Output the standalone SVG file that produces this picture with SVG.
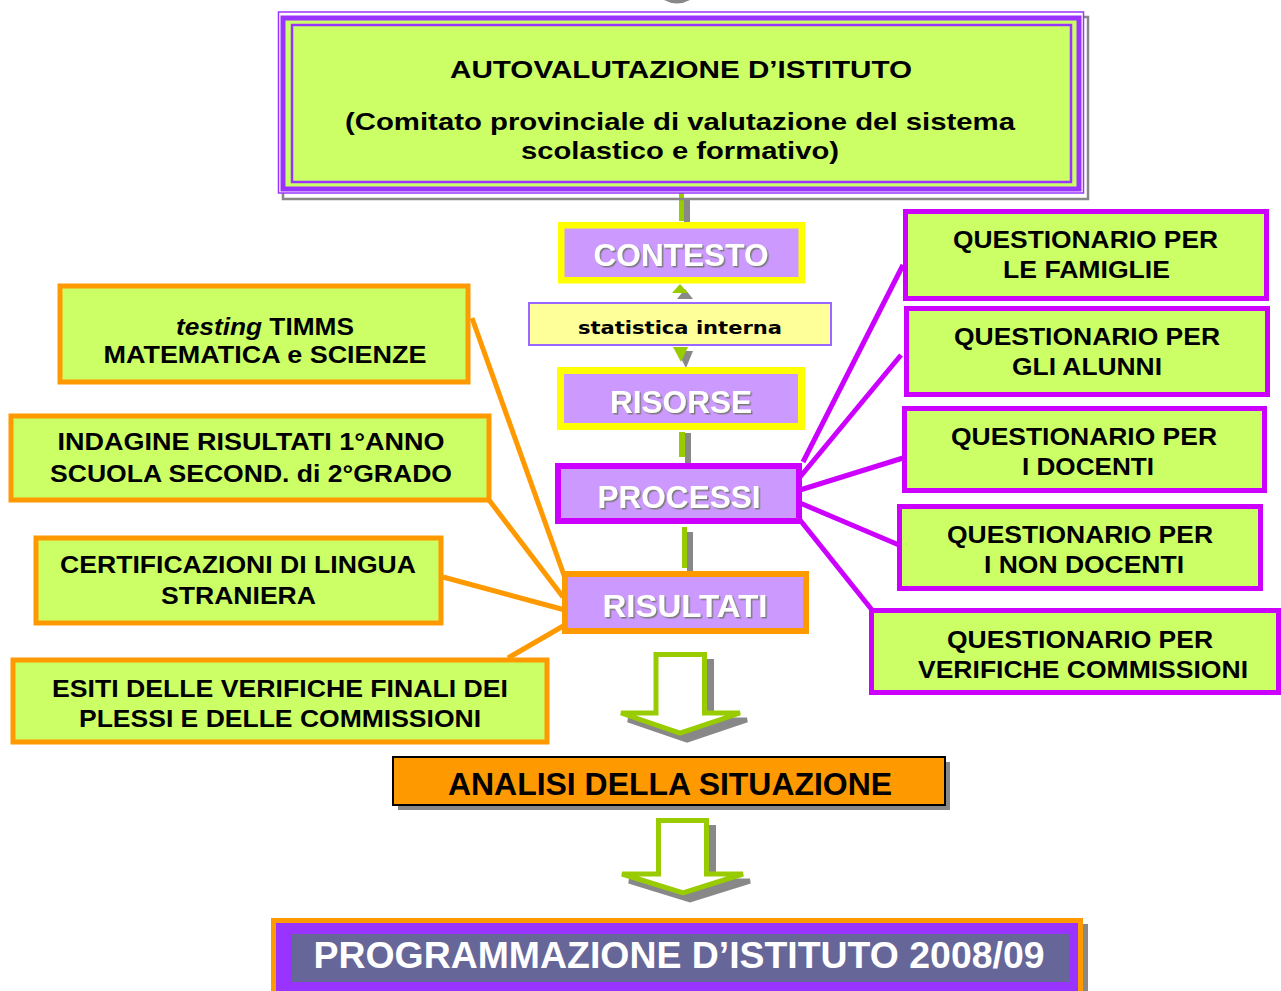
<svg xmlns="http://www.w3.org/2000/svg" width="1281" height="991" viewBox="0 0 1281 991">
<defs>
<filter id="ts" x="-5%" y="-20%" width="112%" height="150%"><feDropShadow dx="1.5" dy="1.5" stdDeviation="0.3" flood-color="#7a7a7a" flood-opacity="1"/></filter>
</defs>
<style>
text{font-family:"Liberation Sans",Arial,sans-serif;font-weight:bold;text-anchor:middle;fill:#000}
.t24{font-size:24px}
.w{fill:#fff;font-size:32px;filter:url(#ts)}
.lg{fill:#ccff66;stroke:#ff9900;stroke-width:5}
.rg{fill:#ccff66;stroke:#cc00ff;stroke-width:5}
.pb{fill:#cc99ff}
.oc{stroke:#ff9900;stroke-width:5;fill:none}
.mc{stroke:#cc00ff;stroke-width:5;fill:none}
.gf{fill:#99cc00}
.sf{fill:#888}
.big{fill:#fff;stroke:#99cc00;stroke-width:5;stroke-linejoin:miter}
.bigs{fill:#888;stroke:#888;stroke-width:5}
</style>
<rect width="1281" height="991" fill="#fff"/>
<path d="M664,0 Q677,7 690,0 Z" fill="#888"/>

<g id="connectors">
  <rect class="sf" x="684" y="198" width="6" height="27"/>
  <rect class="gf" x="679" y="193" width="5" height="28"/>
  <polygon class="sf" points="685,289 677,299 693,299"/>
  <polygon class="gf" points="680,284 672,293 688,293"/>
  <polygon class="sf" points="677,351 693,351 686,368"/>
  <polygon class="gf" points="673,347 688,347 681,362"/>
  <rect class="sf" x="685" y="433" width="6" height="30"/>
  <rect class="gf" x="679" y="432" width="6" height="25"/>
  <rect class="sf" x="687" y="532" width="6" height="39"/>
  <rect class="gf" x="682" y="527" width="5" height="41"/>
  <line class="oc" x1="472" y1="318" x2="565" y2="578"/>
  <line class="oc" x1="489" y1="500" x2="563" y2="597"/>
  <line class="oc" x1="443" y1="577" x2="565" y2="610"/>
  <line class="oc" x1="508" y1="658" x2="565" y2="625"/>
  <line class="mc" x1="803" y1="462" x2="903" y2="265"/>
  <line class="mc" x1="800" y1="477" x2="901" y2="355"/>
  <line class="mc" x1="800" y1="490" x2="903" y2="458"/>
  <line class="mc" x1="800" y1="503" x2="899" y2="545"/>
  <line class="mc" x1="800" y1="520" x2="872" y2="610"/>
  <path class="bigs" d="M663,661.5 H711.5 V720 H747 L687,740 L628,720 H663 Z"/>
  <path class="big" d="M656,654.5 H704.5 V713 H740 L680,733 L621,713 H656 Z"/>
  <path class="bigs" d="M665.5,827.5 H713.5 V881 H750 L690,900 L629,881 H665.5 Z"/>
  <path class="big" d="M658.5,820.5 H706.5 V874 H743 L683,893 L622,874 H658.5 Z"/>
</g>

<g id="autovalutazione">
  <rect x="283" y="17" width="805" height="182" fill="none" stroke="#888" stroke-width="2.5"/>
  <rect x="278.5" y="12" width="805" height="181" fill="#fff" stroke="#9933ff" stroke-width="1.5"/>
  <rect x="283" y="18" width="796" height="171" fill="#ccff66" stroke="#9933ff" stroke-width="5"/>
  <rect x="292" y="25" width="779" height="157" fill="none" stroke="#9933ff" stroke-width="2.5"/>
  <text class="t24" x="681" y="78" textLength="462" lengthAdjust="spacingAndGlyphs">AUTOVALUTAZIONE D’ISTITUTO</text>
  <text class="t24" x="680" y="130" textLength="670" lengthAdjust="spacingAndGlyphs">(Comitato provinciale di valutazione del sistema</text>
  <text class="t24" x="680" y="159" textLength="318" lengthAdjust="spacingAndGlyphs">scolastico e formativo)</text>
</g>

<g id="contesto">
  <rect class="pb" x="561.25" y="225.25" width="240.5" height="55" stroke="#ffff00" stroke-width="6.5"/>
  <text class="w" x="681" y="266" textLength="175" lengthAdjust="spacingAndGlyphs">CONTESTO</text>
</g>

<g id="statistica">
  <rect x="529" y="303" width="302" height="42" fill="#ffff99" stroke="#9966ff" stroke-width="2"/>
  <text x="680" y="334" style="font-family:'DejaVu Sans',Verdana,sans-serif;font-size:17px" textLength="204" lengthAdjust="spacingAndGlyphs">statistica interna</text>
</g>

<g id="risorse">
  <rect class="pb" x="560.5" y="370.5" width="241" height="56" stroke="#ffff00" stroke-width="7"/>
  <text class="w" x="681" y="413" textLength="142" lengthAdjust="spacingAndGlyphs">RISORSE</text>
</g>

<g id="processi">
  <rect class="pb" x="558" y="466" width="241" height="55" stroke="#cc00ff" stroke-width="6"/>
  <text class="w" x="679" y="508" textLength="163" lengthAdjust="spacingAndGlyphs">PROCESSI</text>
</g>

<g id="risultati">
  <rect class="pb" x="565" y="574" width="241" height="57" stroke="#ff9900" stroke-width="6"/>
  <text class="w" x="685" y="617" textLength="165" lengthAdjust="spacingAndGlyphs">RISULTATI</text>
</g>

<g id="timms">
  <rect class="lg" x="60" y="286" width="408" height="96"/>
  <text class="t24" x="265" y="335" textLength="178" lengthAdjust="spacingAndGlyphs"><tspan font-style="italic">testing</tspan> TIMMS</text>
  <text class="t24" x="265" y="363" textLength="323" lengthAdjust="spacingAndGlyphs">MATEMATICA e SCIENZE</text>
</g>

<g id="indagine">
  <rect class="lg" x="11" y="416" width="478" height="84"/>
  <text class="t24" x="251" y="450" textLength="387" lengthAdjust="spacingAndGlyphs">INDAGINE RISULTATI 1°ANNO</text>
  <text class="t24" x="251" y="482" textLength="402" lengthAdjust="spacingAndGlyphs">SCUOLA SECOND. di 2°GRADO</text>
</g>

<g id="certificazioni">
  <rect class="lg" x="36" y="538" width="405" height="85"/>
  <text class="t24" x="238" y="573" textLength="356" lengthAdjust="spacingAndGlyphs">CERTIFICAZIONI DI LINGUA</text>
  <text class="t24" x="238.5" y="604" textLength="155" lengthAdjust="spacingAndGlyphs">STRANIERA</text>
</g>

<g id="esiti">
  <rect class="lg" x="13" y="660" width="534" height="82"/>
  <text class="t24" x="280" y="697" textLength="456" lengthAdjust="spacingAndGlyphs">ESITI DELLE VERIFICHE FINALI DEI</text>
  <text class="t24" x="280" y="727" textLength="402" lengthAdjust="spacingAndGlyphs">PLESSI E DELLE COMMISSIONI</text>
</g>

<g id="q-famiglie">
  <rect class="rg" x="905.5" y="211.5" width="361" height="87"/>
  <text class="t24" x="1085.5" y="248" textLength="265" lengthAdjust="spacingAndGlyphs">QUESTIONARIO PER</text>
  <text class="t24" x="1086.5" y="278" textLength="167" lengthAdjust="spacingAndGlyphs">LE FAMIGLIE</text>
</g>

<g id="q-alunni">
  <rect class="rg" x="906.5" y="308.5" width="361" height="86"/>
  <text class="t24" x="1087" y="345" textLength="266" lengthAdjust="spacingAndGlyphs">QUESTIONARIO PER</text>
  <text class="t24" x="1087" y="375" textLength="150" lengthAdjust="spacingAndGlyphs">GLI ALUNNI</text>
</g>

<g id="q-docenti">
  <rect class="rg" x="904.5" y="408.5" width="360" height="82"/>
  <text class="t24" x="1084" y="445" textLength="266" lengthAdjust="spacingAndGlyphs">QUESTIONARIO PER</text>
  <text class="t24" x="1088" y="475" textLength="132" lengthAdjust="spacingAndGlyphs">I DOCENTI</text>
</g>

<g id="q-nondocenti">
  <rect class="rg" x="899.5" y="506.5" width="361" height="82"/>
  <text class="t24" x="1080" y="543" textLength="266" lengthAdjust="spacingAndGlyphs">QUESTIONARIO PER</text>
  <text class="t24" x="1084" y="573" textLength="200" lengthAdjust="spacingAndGlyphs">I NON DOCENTI</text>
</g>

<g id="q-verifiche">
  <rect class="rg" x="871.5" y="610.5" width="407" height="82"/>
  <text class="t24" x="1080" y="648" textLength="266" lengthAdjust="spacingAndGlyphs">QUESTIONARIO PER</text>
  <text class="t24" x="1083" y="678" textLength="330" lengthAdjust="spacingAndGlyphs">VERIFICHE COMMISSIONI</text>
</g>

<g id="analisi">
  <rect x="398" y="762" width="552" height="48" fill="#888"/>
  <rect x="393" y="757" width="552" height="48" fill="#ff9900" stroke="#000" stroke-width="2"/>
  <text x="670" y="795" font-size="31" textLength="444" lengthAdjust="spacingAndGlyphs">ANALISI DELLA SITUAZIONE</text>
</g>

<g id="programmazione">
  <rect x="277" y="924" width="811" height="80" fill="#888"/>
  <rect x="273.5" y="920.5" width="807" height="80" fill="#9933ff" stroke="#ff9900" stroke-width="5"/>
  <rect x="292" y="934" width="778" height="48" fill="#666699"/>
  <text x="679" y="968" font-size="37" fill="#fff" style="fill:#fff" textLength="731" lengthAdjust="spacingAndGlyphs">PROGRAMMAZIONE D’ISTITUTO 2008/09</text>
</g>
</svg>
